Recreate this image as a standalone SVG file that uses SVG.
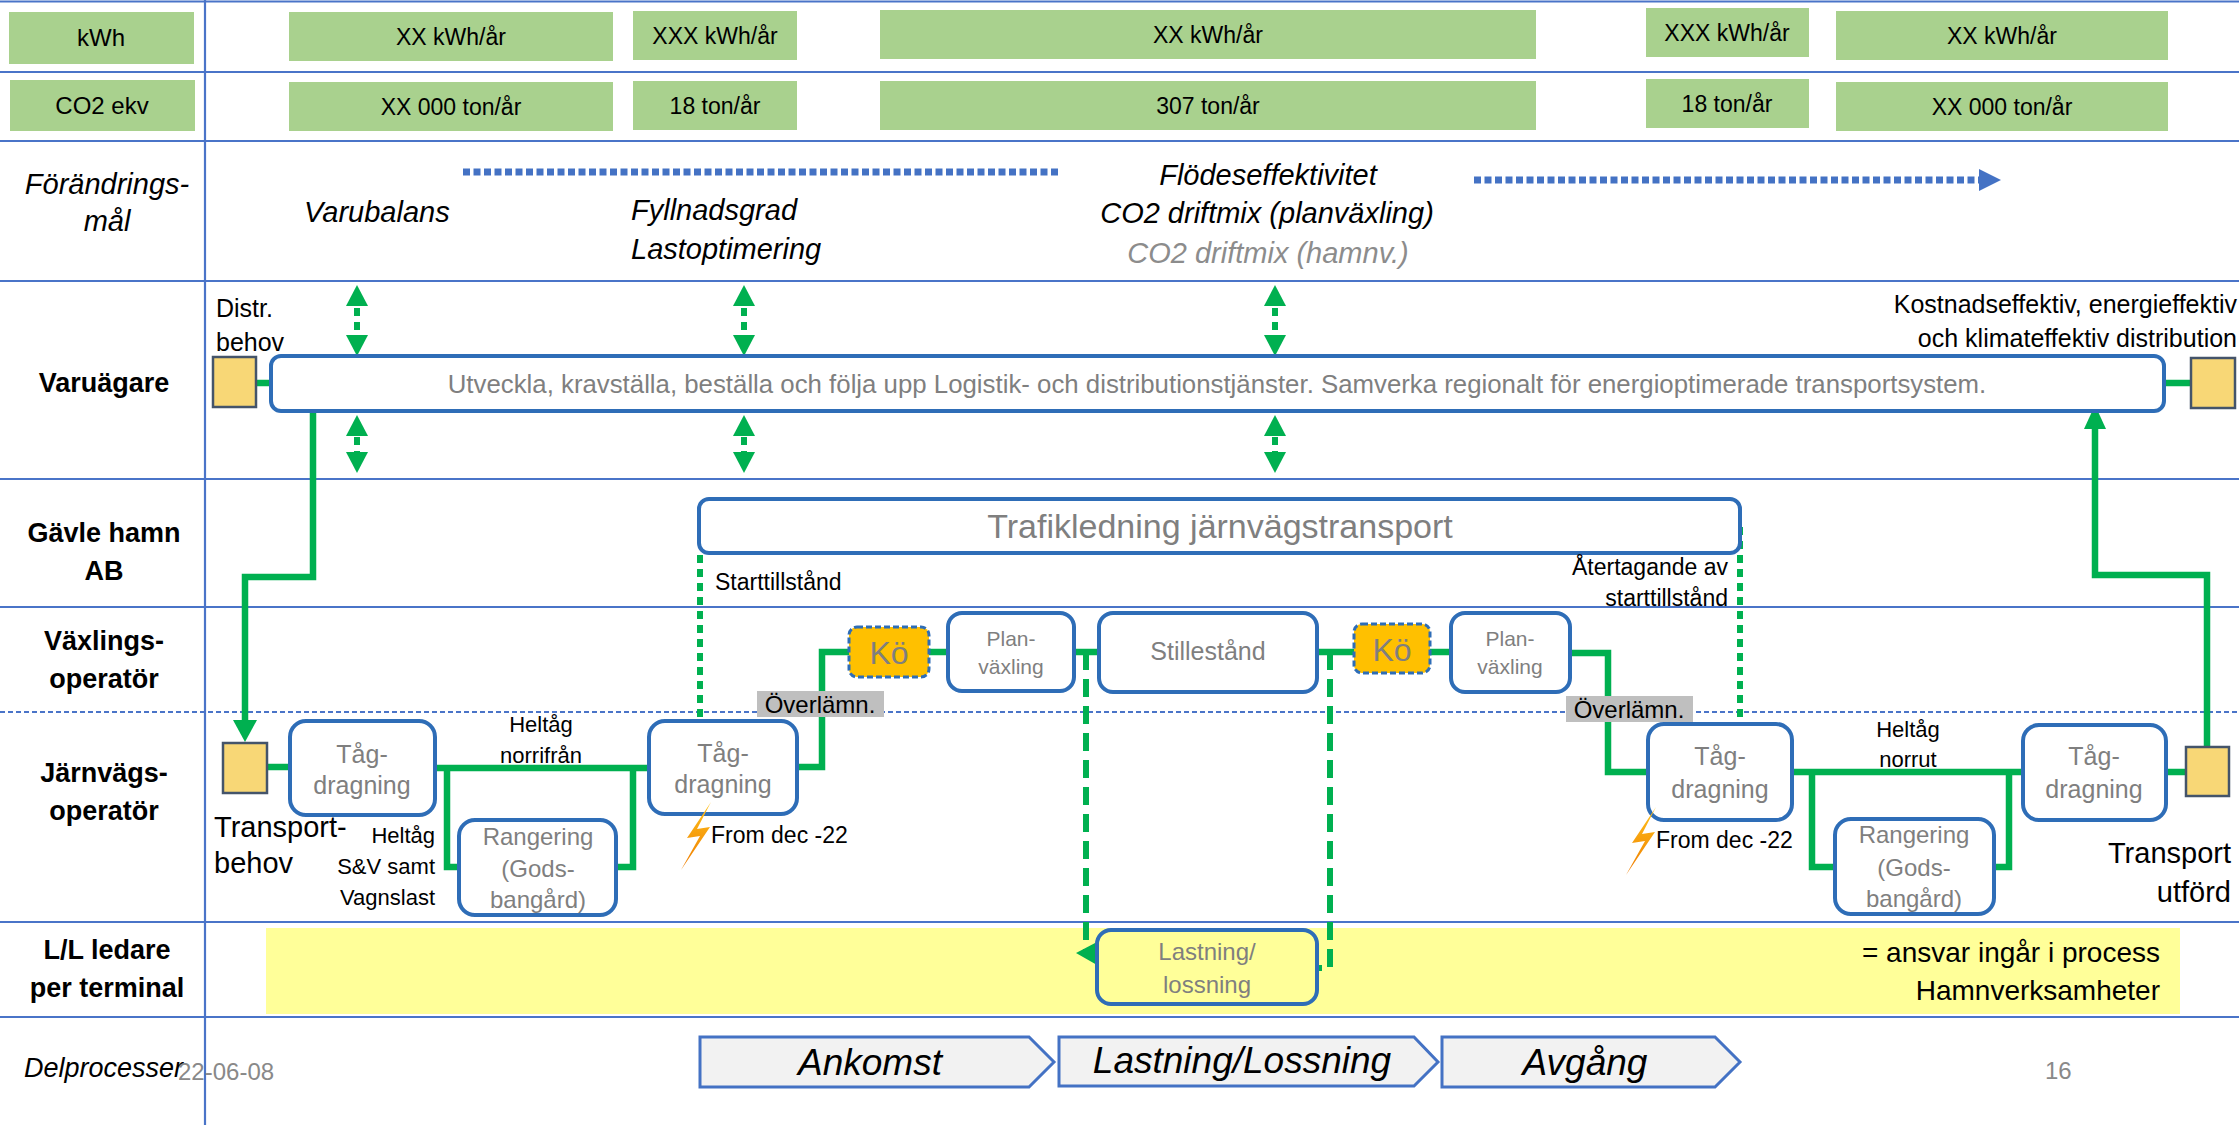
<svg xmlns="http://www.w3.org/2000/svg" width="2239" height="1125" viewBox="0 0 2239 1125">
<defs>
<linearGradient id="bolt" x1="0" y1="0" x2="0" y2="1">
<stop offset="0" stop-color="#FFC21A"/>
<stop offset="1" stop-color="#EE7A00"/>
</linearGradient>
<style>
text{font-family:"Liberation Sans",Arial,sans-serif;}
.lane{stroke:#4A74C8;stroke-width:2.2;fill:none;}
.hdr{fill:#A9D18E;}
.ht{fill:#000;text-anchor:middle;}
.lbl{font-size:27px;font-weight:bold;fill:#000;text-anchor:middle;}
.goal{font-size:29px;font-style:italic;}
.node{fill:#fff;stroke:#2E6DB7;stroke-width:4;}
.ko{fill:#FFC000;stroke:#2E6DB7;stroke-width:3;stroke-dasharray:6 3;}
.sq{fill:#F8D776;stroke:#44546A;stroke-width:2.5;}
.nt{fill:#7F7F7F;text-anchor:middle;}
.an{fill:#000;}
.g{stroke:#00B050;stroke-width:6.5;fill:none;stroke-linejoin:miter;}
.gd{stroke:#00B050;stroke-width:6;fill:none;stroke-dasharray:18 9;}
.gdot{stroke:#00B050;stroke-width:6;fill:none;stroke-dasharray:8 6;}
.gh{fill:#00B050;}
.bdot{stroke:#4472C4;stroke-width:7;fill:none;stroke-dasharray:7 3.5;}
.chev{fill:#F2F2F2;stroke:#4472C4;stroke-width:3;}
.ct{font-size:37px;font-style:italic;fill:#000;text-anchor:middle;}
.ov{fill:#BFBFBF;}
</style>
</defs>
<rect x="0" y="0" width="2239" height="1125" fill="#fff"/>

<g id="lanes">
<line class="lane" x1="0" y1="1.5" x2="2239" y2="1.5" stroke-width="3"/>
<line class="lane" x1="0" y1="72" x2="2239" y2="72"/>
<line class="lane" x1="0" y1="141" x2="2239" y2="141" stroke-width="3"/>
<line class="lane" x1="0" y1="281" x2="2239" y2="281" stroke-width="3"/>
<line class="lane" x1="0" y1="479" x2="2239" y2="479"/>
<line class="lane" x1="0" y1="607" x2="2239" y2="607"/>
<line class="lane" x1="0" y1="712" x2="2239" y2="712" stroke-width="1.5" stroke-dasharray="5 3"/>
<line class="lane" x1="0" y1="922" x2="2239" y2="922"/>
<line class="lane" x1="0" y1="1017" x2="2239" y2="1017" stroke-width="3"/>
<line class="lane" x1="205" y1="0" x2="205" y2="1125" stroke-width="1.6"/>
</g>

<g id="row-labels">
<text class="lbl" x="104" y="392">Varuägare</text>
<text class="lbl" x="104" y="542">Gävle hamn</text>
<text class="lbl" x="104" y="580">AB</text>
<text class="lbl" x="104" y="650">Växlings-</text>
<text class="lbl" x="104" y="688">operatör</text>
<text class="lbl" x="104" y="782">Järnvägs-</text>
<text class="lbl" x="104" y="820">operatör</text>
<text class="lbl" x="107" y="959">L/L ledare</text>
<text class="lbl" x="107" y="997">per terminal</text>
<text class="goal" x="107" y="194" text-anchor="middle" fill="#000">Förändrings-</text>
<text class="goal" x="107" y="231" text-anchor="middle" fill="#000">mål</text>
<text x="24" y="1077" font-size="27" font-style="italic" fill="#000">Delprocesser</text>
<text x="178" y="1080" font-size="24" fill="#898989">22-06-08</text>
<text x="2045" y="1079" font-size="24" fill="#898989">16</text>
</g>

<g id="kwh-row">
<rect class="hdr" x="9" y="12" width="185" height="52"/>
<text class="ht" x="101" y="46" font-size="24">kWh</text>
<rect class="hdr" x="289" y="12" width="324" height="49"/>
<text class="ht" x="451" y="45" font-size="23">XX kWh/år</text>
<rect class="hdr" x="633" y="11" width="164" height="49"/>
<text class="ht" x="715" y="44" font-size="23">XXX kWh/år</text>
<rect class="hdr" x="880" y="10" width="656" height="49"/>
<text class="ht" x="1208" y="43" font-size="23">XX kWh/år</text>
<rect class="hdr" x="1646" y="8" width="163" height="49"/>
<text class="ht" x="1727" y="41" font-size="23">XXX kWh/år</text>
<rect class="hdr" x="1836" y="11" width="332" height="49"/>
<text class="ht" x="2002" y="44" font-size="23">XX kWh/år</text>
</g>

<g id="co2-row">
<rect class="hdr" x="10" y="80" width="185" height="51"/>
<text class="ht" x="102" y="114" font-size="24">CO2 ekv</text>
<rect class="hdr" x="289" y="82" width="324" height="49"/>
<text class="ht" x="451" y="115" font-size="23">XX 000 ton/år</text>
<rect class="hdr" x="633" y="81" width="164" height="49"/>
<text class="ht" x="715" y="114" font-size="23">18 ton/år</text>
<rect class="hdr" x="880" y="81" width="656" height="49"/>
<text class="ht" x="1208" y="114" font-size="23">307 ton/år</text>
<rect class="hdr" x="1646" y="79" width="163" height="49"/>
<text class="ht" x="1727" y="112" font-size="23">18 ton/år</text>
<rect class="hdr" x="1836" y="82" width="332" height="49"/>
<text class="ht" x="2002" y="115" font-size="23">XX 000 ton/år</text>
</g>

<g id="goals">
<line class="bdot" x1="463" y1="172" x2="1061" y2="172"/>
<line class="bdot" x1="1474" y1="180" x2="1980" y2="180"/>
<polygon points="1979,169 2001,180 1979,191" fill="#4472C4"/>
<text class="goal" x="304" y="222" fill="#000">Varubalans</text>
<text class="goal" x="631" y="220" fill="#000">Fyllnadsgrad</text>
<text class="goal" x="631" y="259" fill="#000">Lastoptimering</text>
<text class="goal" x="1268" y="185" text-anchor="middle" fill="#000">Flödeseffektivitet</text>
<text class="goal" x="1267" y="223" text-anchor="middle" fill="#000">CO2 driftmix (planväxling)</text>
<text class="goal" x="1268" y="263" text-anchor="middle" fill="#8C8C8C">CO2 driftmix (hamnv.)</text>
</g>

<g id="ll-band">
<rect x="266" y="928" width="1914" height="86" fill="#FFFF99"/>
<text class="an" x="2160" y="962" font-size="28" text-anchor="end">= ansvar ingår i process</text>
<text class="an" x="2160" y="1000" font-size="28" text-anchor="end">Hamnverksamheter</text>
</g>

<g id="connectors">
<line class="g" x1="256" y1="383" x2="271" y2="383"/>
<line class="g" x1="2164" y1="383" x2="2191" y2="383"/>
<polyline class="g" points="313,411 313,577 245,577 245,724"/>
<polygon class="gh" points="245,742 233,720 257,720"/>
<polyline class="g" points="2207,747 2207,575 2095,575 2095,426"/>
<polygon class="gh" points="2095,405 2084,429 2106,429"/>
<line class="g" x1="267" y1="767" x2="290" y2="767"/>
<line class="g" x1="435" y1="768" x2="649" y2="768"/>
<polyline class="g" points="447,768 447,867 459,867"/>
<polyline class="g" points="616,867 633,867 633,768"/>
<polyline class="g" points="797,767 822,767 822,652 849,652"/>
<line class="g" x1="929" y1="652" x2="948" y2="652"/>
<line class="g" x1="1074" y1="652" x2="1099" y2="652"/>
<line class="g" x1="1317" y1="652" x2="1354" y2="652"/>
<line class="g" x1="1430" y1="652" x2="1451" y2="652"/>
<polyline class="g" points="1570,653 1608,653 1608,772 1648,772"/>
<line class="g" x1="1792" y1="772" x2="2023" y2="772"/>
<polyline class="g" points="1812,772 1812,867 1835,867"/>
<polyline class="g" points="1994,867 2009,867 2009,772"/>
<line class="g" x1="2166" y1="772" x2="2186" y2="772"/>
<polyline class="gd" points="1086,652 1086,953"/>
<polygon class="gh" points="1076,953 1097,942 1097,965"/>
<polyline class="gd" points="1330,652 1330,968 1317,968"/>
<line class="gdot" x1="700" y1="555" x2="700" y2="717"/>
<line class="gdot" x1="1740" y1="527" x2="1740" y2="717"/>
<g id="double-arrows">
<polygon class="gh" points="357,285 346,306 368,306"/>
<line class="gdot" x1="357" y1="308" x2="357" y2="335" stroke-width="5"/>
<polygon class="gh" points="357,356 346,335 368,335"/>
<polygon class="gh" points="357,415 346,436 368,436"/>
<line class="gdot" x1="357" y1="437" x2="357" y2="452" stroke-width="5"/>
<polygon class="gh" points="357,473 346,452 368,452"/>
<polygon class="gh" points="744,285 733,306 755,306"/>
<line class="gdot" x1="744" y1="308" x2="744" y2="335" stroke-width="5"/>
<polygon class="gh" points="744,356 733,335 755,335"/>
<polygon class="gh" points="744,415 733,436 755,436"/>
<line class="gdot" x1="744" y1="437" x2="744" y2="452" stroke-width="5"/>
<polygon class="gh" points="744,473 733,452 755,452"/>
<polygon class="gh" points="1275,285 1264,306 1286,306"/>
<line class="gdot" x1="1275" y1="308" x2="1275" y2="335" stroke-width="5"/>
<polygon class="gh" points="1275,356 1264,335 1286,335"/>
<polygon class="gh" points="1275,415 1264,436 1286,436"/>
<line class="gdot" x1="1275" y1="437" x2="1275" y2="452" stroke-width="5"/>
<polygon class="gh" points="1275,473 1264,452 1286,452"/>
</g>
</g>

<g id="varuagare-box">
<rect class="node" x="271" y="356" width="1893" height="55" rx="10"/>
<text class="nt" x="1217" y="393" font-size="25.8">Utveckla, kravställa, beställa och följa upp Logistik- och distributionstjänster. Samverka regionalt för energioptimerade transportsystem.</text>
</g>
<g id="distr-behov">
<rect class="sq" x="213" y="357" width="43" height="50"/>
<text class="an" x="216" y="317" font-size="25">Distr.</text>
<text class="an" x="216" y="351" font-size="25">behov</text>
</g>
<g id="kostnadseffektiv">
<rect class="sq" x="2191" y="358" width="44" height="50"/>
<text class="an" x="2237" y="313" font-size="25" text-anchor="end">Kostnadseffektiv, energieffektiv</text>
<text class="an" x="2237" y="347" font-size="25" text-anchor="end">och klimateffektiv distribution</text>
</g>

<g id="trafikledning">
<rect class="node" x="699" y="499" width="1041" height="54" rx="10"/>
<text class="nt" x="1220" y="538" font-size="34">Trafikledning järnvägstransport</text>
<text class="an" x="715" y="590" font-size="23">Starttillstånd</text>
<text class="an" x="1728" y="575" font-size="23" text-anchor="end">Återtagande av</text>
<text class="an" x="1728" y="606" font-size="23" text-anchor="end">starttillstånd</text>
</g>

<g id="ko1">
<rect class="ko" x="849" y="627" width="80" height="50" rx="8"/>
<text class="nt" x="889" y="664" font-size="32">Kö</text>
</g>
<g id="planvaxling1">
<rect class="node" x="948" y="613" width="126" height="78" rx="14"/>
<text class="nt" x="1011" y="646" font-size="21">Plan-</text>
<text class="nt" x="1011" y="674" font-size="21">växling</text>
</g>
<g id="stillestand">
<rect class="node" x="1099" y="613" width="218" height="79" rx="14"/>
<text class="nt" x="1208" y="660" font-size="25">Stillestånd</text>
</g>
<g id="ko2">
<rect class="ko" x="1354" y="624" width="76" height="49" rx="8"/>
<text class="nt" x="1392" y="661" font-size="32">Kö</text>
</g>
<g id="planvaxling2">
<rect class="node" x="1451" y="613" width="119" height="79" rx="14"/>
<text class="nt" x="1510" y="646" font-size="21">Plan-</text>
<text class="nt" x="1510" y="674" font-size="21">växling</text>
</g>

<g id="overlamn1">
<rect class="ov" x="757" y="691" width="127" height="26"/>
<text class="an" x="820" y="713" font-size="24" text-anchor="middle">Överlämn.</text>
</g>
<g id="overlamn2">
<rect class="ov" x="1566" y="696" width="127" height="26"/>
<text class="an" x="1629" y="718" font-size="24" text-anchor="middle">Överlämn.</text>
</g>

<g id="transportbehov">
<rect class="sq" x="223" y="743" width="44" height="50"/>
<text class="an" x="214" y="837" font-size="29">Transport-</text>
<text class="an" x="214" y="873" font-size="29">behov</text>
</g>
<g id="tagdragning1">
<rect class="node" x="290" y="721" width="145" height="94" rx="16"/>
<text class="nt" x="362" y="763" font-size="25">Tåg-</text>
<text class="nt" x="362" y="794" font-size="25">dragning</text>
</g>
<g id="heltag-norrifran">
<text class="an" x="541" y="732" font-size="22" text-anchor="middle">Heltåg</text>
<text class="an" x="541" y="763" font-size="22" text-anchor="middle">norrifrån</text>
</g>
<g id="heltag-sv">
<text class="an" x="435" y="843" font-size="22" text-anchor="end">Heltåg</text>
<text class="an" x="435" y="874" font-size="22" text-anchor="end">S&amp;V samt</text>
<text class="an" x="435" y="905" font-size="22" text-anchor="end">Vagnslast</text>
</g>
<g id="rangering1">
<rect class="node" x="459" y="820" width="157" height="95" rx="16"/>
<text class="nt" x="538" y="845" font-size="24">Rangering</text>
<text class="nt" x="538" y="877" font-size="24">(Gods-</text>
<text class="nt" x="538" y="908" font-size="24">bangård)</text>
</g>
<g id="tagdragning2">
<rect class="node" x="649" y="721" width="148" height="93" rx="16"/>
<text class="nt" x="723" y="762" font-size="25">Tåg-</text>
<text class="nt" x="723" y="793" font-size="25">dragning</text>
<polygon points="711,802 687,838 700,836 681,870 710,827 697,829" fill="url(#bolt)"/>
<text class="an" x="711" y="843" font-size="23">From dec -22</text>
</g>
<g id="tagdragning3">
<rect class="node" x="1648" y="724" width="144" height="96" rx="16"/>
<text class="nt" x="1720" y="765" font-size="25">Tåg-</text>
<text class="nt" x="1720" y="798" font-size="25">dragning</text>
<polygon points="1656,807 1632,843 1645,841 1626,875 1655,832 1642,834" fill="url(#bolt)"/>
<text class="an" x="1656" y="848" font-size="23">From dec -22</text>
</g>
<g id="heltag-norrut">
<text class="an" x="1908" y="737" font-size="22" text-anchor="middle">Heltåg</text>
<text class="an" x="1908" y="767" font-size="22" text-anchor="middle">norrut</text>
</g>
<g id="rangering2">
<rect class="node" x="1835" y="819" width="159" height="95" rx="16"/>
<text class="nt" x="1914" y="843" font-size="24">Rangering</text>
<text class="nt" x="1914" y="876" font-size="24">(Gods-</text>
<text class="nt" x="1914" y="907" font-size="24">bangård)</text>
</g>
<g id="tagdragning4">
<rect class="node" x="2023" y="725" width="143" height="95" rx="16"/>
<text class="nt" x="2094" y="765" font-size="25">Tåg-</text>
<text class="nt" x="2094" y="798" font-size="25">dragning</text>
</g>
<g id="transport-utford">
<rect class="sq" x="2186" y="747" width="43" height="49"/>
<text class="an" x="2231" y="863" font-size="29" text-anchor="end">Transport</text>
<text class="an" x="2231" y="902" font-size="29" text-anchor="end">utförd</text>
</g>

<g id="lastning">
<rect class="node" x="1097" y="930" width="220" height="74" rx="14" style="fill:#FFFF99"/>
<text class="nt" x="1207" y="960" font-size="24">Lastning/</text>
<text class="nt" x="1207" y="993" font-size="24">lossning</text>
</g>

<g id="ankomst">
<polygon class="chev" points="700,1037 1029,1037 1054,1062 1029,1087 700,1087"/>
<text class="ct" x="870" y="1075">Ankomst</text>
</g>
<g id="lastning-lossning">
<polygon class="chev" points="1059,1037 1414,1037 1438,1062 1414,1086 1059,1086"/>
<text class="ct" x="1242" y="1073">Lastning/Lossning</text>
</g>
<g id="avgang">
<polygon class="chev" points="1442,1037 1715,1037 1740,1062 1715,1087 1442,1087"/>
<text class="ct" x="1585" y="1075">Avgång</text>
</g>
</svg>
